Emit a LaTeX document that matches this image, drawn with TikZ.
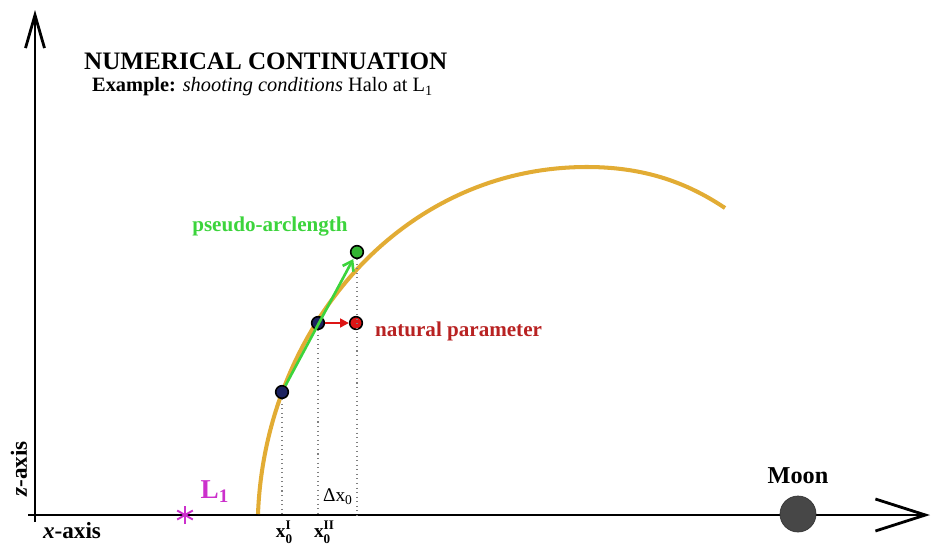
\documentclass[tikz,border=0pt]{standalone}
\usepackage{fontspec}
\setmainfont{Liberation Serif}
\usepackage{tikz}
\usetikzlibrary{arrows.meta,positioning,calc}
\usepackage{xcolor}
\definecolor{branch}{HTML}{E2AC34}
\definecolor{arcgreen}{HTML}{3CD43C}
\definecolor{natred}{HTML}{B82222}
\definecolor{ptred}{HTML}{DD1515}
\definecolor{libmag}{HTML}{CC30CC}
\definecolor{navy}{HTML}{1C2260}
\newcommand{\xstep}[1]{x\raisebox{-0.6ex}{\fontsize{7.5}{8}\selectfont\shortstack[l]{#1\\0}}}

\begin{document}
\begin{tikzpicture}[x=0.02cm, y=-0.02cm,
    axis/.style={line width=1.6pt},
    dot/.style={circle, draw=black, line width=0.9pt, inner sep=0pt, minimum size=7.2pt},
    guide/.style={gray, dotted, line width=0.6pt},
    lbl/.style={font=\fontsize{#1}{#1}\selectfont\bfseries, inner sep=1pt}]
    \useasboundingbox (0,0) rectangle (932,548);
    % axes
    \coordinate (O) at (35,515);
    \draw[axis, -{Straight Barb[length=0.66cm, width=0.38cm, line width=1.6pt]}] (35,522) -- (35,10);
    \draw[axis, -{Straight Barb[length=1.0cm, width=0.64cm, line width=1.6pt]}] (28,515) -- (930,515);
    \node[lbl=13.2] (xlab) at (72,531) {\textit{x}-axis};
    \node[lbl=13.2, rotate=90] (zlab) at (19,469) {\textit{z}-axis};

    % title
    \node[lbl=14.3, anchor=west] (title) at (82,61) {NUMERICAL CONTINUATION};
    \node[font=\fontsize{11.6}{12}\selectfont, anchor=west] (sub) at (86,87)
        {\textbf{Example:} \textit{shooting conditions} Halo at L\textsubscript{1}};

    % family of halo orbits
    \draw[branch, line width=2.3pt] (258,514) .. controls (265,330) and (400,167) .. (587,167)
        .. controls (650,167) and (692,186) .. (725,208);

    % L1 and Moon
    \node[libmag, inner sep=0pt] (L1pt) at (185,515) {};
    \foreach \a in {90,30,150}
        \draw[libmag, line width=1.1pt] ($(L1pt)+(\a:9)$) -- ($(L1pt)+(\a+180:9)$);
    \node[lbl=15.5, libmag] (L1) at (215,492) {L\textsubscript{1}};
    \node[circle, fill=black!72, draw=black!80, minimum size=0.72cm, inner sep=0pt] (moon) at (798,514) {};
    \node[lbl=13.8] (moonlab) at (798,476) {Moon};

    % points
    \node[dot, fill=navy] (p1) at (282,392) {};
    \node[dot, fill=navy] (p2) at (318,323) {};
    \node[dot, fill=arcgreen!85!black] (pg) at (357,252) {};
    \node[dot, fill=ptred] (pr) at (356,323) {};

    % guide lines
    \draw[guide] (p1) -- (p1 |- O);
    \draw[guide] (p2) -- (p2 |- O);
    \draw[guide] (pg) -- (pg |- O);

    % predictor steps
    \draw[arcgreen, line width=1.5pt, -{Straight Barb[length=5pt, width=7pt, line width=1.5pt]}] (p1) -- ($(p1)!0.95!(pg)$);
    \draw[ptred, line width=1.5pt, -{Triangle[length=5pt, width=5pt]}] (p2) -- (pr);
    \node[lbl=12, arcgreen] (arclab) at (270,227) {pseudo-arclength};
    \node[lbl=12, natred, anchor=west] (natlab) at (373,331) {natural parameter};

    % ticks on x-axis
    \node[font=\fontsize{11}{11}\selectfont] (dx) at (338,497) {Δx\textsubscript{0}};
    \node[lbl=11] (x1) at (284,532) {\xstep{I}};
    \node[lbl=11] (x2) at (324,532) {\xstep{II}};
\end{tikzpicture}
\end{document}
